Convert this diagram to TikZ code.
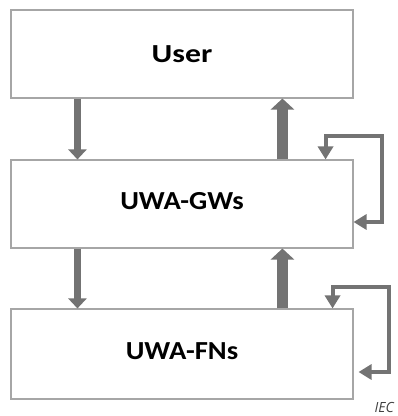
\documentclass[tikz,border=0pt]{standalone}
\usepackage{xcolor}
\usepackage{fontspec}
\setmainfont{Carlito}
\newfontfamily\tagfont{Open Sans}
\usepackage{tikz}
\usetikzlibrary{
	arrows.meta, positioning
}

\definecolor{slabgray}{HTML}{A6A6A6}
\definecolor{arrowgray}{HTML}{737373}

\begin{document}
\begin{tikzpicture}[
		x = 1pt, y = -1pt,
		layer box/.style={
			rectangle, draw = slabgray, line width = 1.1pt, fill = white,
			minimum width = 342pt, inner sep = 0pt,
			font = \fontsize{26}{30}\selectfont\bfseries
		},
		down flow/.style={
			draw = arrowgray, line width = 7pt,
			-{Triangle[width = 18pt, length = 10pt]}
		},
		up flow/.style={
			draw = arrowgray, line width = 11pt,
			-{Triangle[width = 23pt, length = 11pt]}
		},
		self loop/.style={
			draw = arrowgray, line width = 4pt,
			{Triangle[width = 15pt, length = 13pt]}-{Triangle[width = 15pt, length = 13pt]}
		},
	]
		\useasboundingbox (0, 0) rectangle (398, 416);
		\node[layer box, minimum height = 88pt] (user) at (182, 54) {\scalebox{1.22}[1]{User}};
		\node[layer box, minimum height = 88pt, text depth = 6pt] (gws) at (182, 204) {\scalebox{1.1}[1]{UWA-GWs}};
		\node[layer box, minimum height = 90pt, text depth = 6pt] (fns) at (182, 354) {\scalebox{1.1}[1]{UWA-FNs}};
		\node[anchor = base east, inner sep = 0pt, text = black!75,
			font = \tagfont\itshape\fontsize{14}{16}\selectfont] (tag) at (394, 412) {IEC};

		% requests go down on the left, replies come back up on the right
		\draw[down flow] ([xshift = 67pt]user.south west) -- ([xshift = 67pt]gws.north west);
		\draw[up flow] ([xshift = 272pt]gws.north west) -- ([xshift = 272pt]user.south west);
		\draw[down flow] ([xshift = 67pt]gws.south west) -- ([xshift = 67pt]fns.north west);
		\draw[up flow] ([xshift = 272pt]fns.north west) -- ([xshift = 272pt]gws.south west);

		\draw[self loop] ([xshift = -28pt]gws.north east) |- ([xshift = 28pt, yshift = 23pt]gws.north east)
			|- ([yshift = -18pt]gws.east);
		\draw[self loop] ([xshift = -21pt]fns.north east) |- ([xshift = 35pt, yshift = 21pt]fns.north east)
			|- ([xshift = 5pt, yshift = -18pt]fns.east);
	\end{tikzpicture}
\end{document}
